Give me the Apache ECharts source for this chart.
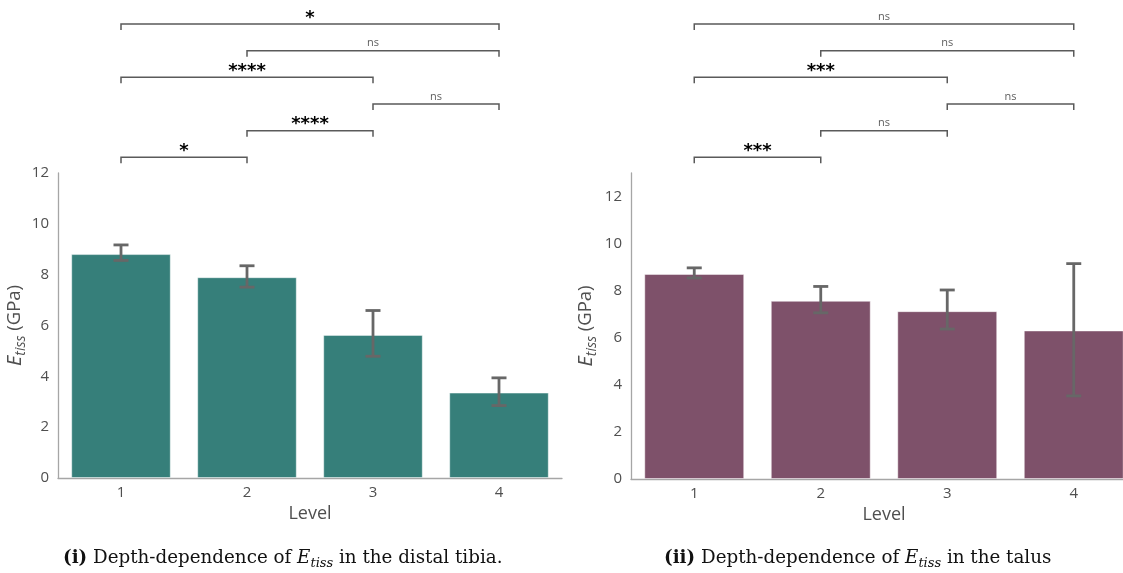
<!DOCTYPE html>
<html>
<head>
<meta charset="utf-8">
<script src="https://cdn.jsdelivr.net/npm/echarts@6/dist/echarts.min.js"></script>
<style>
  html, body { margin: 0; padding: 0; background: #ffffff; overflow: hidden; width: 1123px; height: 573px; }
  #chart { width: 1140px; height: 573px; }
</style>
</head>
<body>
<div id="chart"></div>
<script>
// Tissue modulus by depth level (mean with lower / upper error bounds, GPa)
const levels = ['1', '2', '3', '4'];
const tibiaMean = [8.81, 7.90, 5.63, 3.36];
const tibiaLow  = [8.56, 7.51, 4.79, 2.85];
const tibiaHigh = [9.17, 8.35, 6.59, 3.94];
const talusMean = [8.71, 7.57, 7.13, 6.31];
const talusLow  = [8.54, 7.06, 6.37, 3.53];
const talusHigh = [8.97, 8.18, 8.03, 9.15];

// Pairwise comparisons: [first level index, second level index, stacking row, annotation]
const tibiaPairs = [[0, 1, 1, '*'], [1, 2, 2, '****'], [2, 3, 3, 'ns'], [0, 2, 4, '****'], [1, 3, 5, 'ns'], [0, 3, 6, '*']];
const talusPairs = [[0, 1, 1, '***'], [1, 2, 2, 'ns'], [2, 3, 3, 'ns'], [0, 2, 4, '***'], [1, 3, 5, 'ns'], [0, 3, 6, 'ns']];

const TEAL = '#367f7a';
const PLUM = '#7e516a';
const ERR = '#676767';
const SPINE = '#a6a6a6';
const TEXT = '#4f4f4f';
const SANS = '"Open Sans", "Liberation Sans", sans-serif';
const SERIF = '"DejaVu Serif", "Liberation Serif", serif';

const chart = echarts.init(document.getElementById('chart'), null, { renderer: 'canvas' });

function errorSeries(xi, yi, low, high) {
  return {
    type: 'custom',
    xAxisIndex: xi, yAxisIndex: yi,
    z: 5,
    data: low.map((l, i) => [i, l, high[i]]),
    encode: { x: 0, y: [1, 2] },
    renderItem: function (params, api) {
      const top = api.coord([api.value(0), api.value(2)]);
      const bot = api.coord([api.value(0), api.value(1)]);
      const half = 7.5;
      const st = { stroke: ERR, lineWidth: 2.8, fill: null };
      return {
        type: 'group',
        children: [
          { type: 'line', shape: { x1: top[0], y1: top[1], x2: bot[0], y2: bot[1] }, style: st },
          { type: 'line', shape: { x1: top[0] - half, y1: top[1], x2: top[0] + half, y2: top[1] }, style: st },
          { type: 'line', shape: { x1: bot[0] - half, y1: bot[1], x2: bot[0] + half, y2: bot[1] }, style: st }
        ]
      };
    }
  };
}

function bracketSeries(xi, yi, pairs) {
  return {
    type: 'custom',
    xAxisIndex: xi, yAxisIndex: yi,
    silent: true,
    clip: false,
    data: pairs.map(p => [p[0], p[2], p[1]]),
    renderItem: function (params, api) {
      const p = pairs[params.dataIndex];
      const a = api.coord([p[0], p[2]]);
      const b = api.coord([p[1], p[2]]);
      const y = a[1];
      const drop = 6;
      const isNs = p[3] === 'ns';
      return {
        type: 'group',
        children: [
          {
            type: 'polyline',
            shape: { points: [[a[0], y + drop], [a[0], y], [b[0], y], [b[0], y + drop]] },
            style: { stroke: '#5a5a5a', lineWidth: 1.5, fill: null }
          },
          {
            type: 'text',
            style: isNs ? {
              text: p[3], x: (a[0] + b[0]) / 2, y: y - 2,
              align: 'center', verticalAlign: 'bottom',
              fill: '#5e5e5e', font: '11px ' + SANS
            } : {
              text: p[3], x: (a[0] + b[0]) / 2, y: y + 3,
              align: 'center', verticalAlign: 'bottom',
              fill: '#000000', font: 'bold 18px "DejaVu Sans", sans-serif'
            }
          }
        ]
      };
    }
  };
}

const yName = '{e|E}{s|tiss}{n| (GPa)}';
const yNameRich = {
  e: { fontSize: 20, fontStyle: 'italic', fontFamily: SANS, color: TEXT, lineHeight: 26 },
  s: { fontSize: 14, fontStyle: 'italic', fontFamily: SANS, color: TEXT, lineHeight: 15, verticalAlign: 'bottom' },
  n: { fontSize: 18.5, fontFamily: SANS, color: TEXT, lineHeight: 26 }
};

function mainX(gi) {
  return {
    type: 'category', gridIndex: gi, data: levels,
    name: 'Level', nameLocation: 'middle', nameGap: 25,
    nameTextStyle: { fontSize: 18, color: TEXT, fontFamily: SANS },
    axisLine: { lineStyle: { color: SPINE, width: 1.3 } },
    axisTick: { show: false },
    axisLabel: { fontSize: 15, color: TEXT, fontFamily: SANS, margin: 7 }
  };
}
function mainY(gi, max, gap) {
  return {
    type: 'value', gridIndex: gi, min: 0, max: max, interval: 2,
    name: yName, nameLocation: 'middle', nameRotate: 90, nameGap: gap,
    nameTextStyle: { rich: yNameRich },
    axisLine: { show: true, lineStyle: { color: SPINE, width: 1.3 } },
    axisTick: { show: false },
    splitLine: { show: false },
    axisLabel: { fontSize: 15, color: TEXT, fontFamily: SANS, margin: 9, showMaxLabel: max % 2 === 0 }
  };
}
function bracketX(gi) {
  return { type: 'category', gridIndex: gi, data: levels, show: false };
}
function bracketY(gi) {
  return { type: 'value', gridIndex: gi, min: 0, max: 6.75, show: false, splitLine: { show: false } };
}

const capRich = {
  b: { fontWeight: 'bold', fontSize: 18.3, fontFamily: SERIF, lineHeight: 24, fill: '#111111' },
  e: { fontStyle: 'italic', fontSize: 18.3, fontFamily: SERIF, lineHeight: 24, fill: '#111111' },
  s: { fontStyle: 'italic', fontSize: 13, fontFamily: SERIF, lineHeight: 12, verticalAlign: 'bottom', fill: '#111111' }
};

const option = {
  backgroundColor: '#ffffff',
  animation: false,
  grid: [
    { left: 58, top: 173, width: 504, height: 305 },
    { left: 58, top: 4, width: 504, height: 180 },
    { left: 631, top: 173, width: 506, height: 306 },
    { left: 631, top: 4, width: 506, height: 180 }
  ],
  xAxis: [mainX(0), bracketX(1), mainX(2), bracketX(3)],
  yAxis: [mainY(0, 12, 30), bracketY(1), mainY(2, 13, 32), bracketY(3)],
  series: [
    {
      type: 'bar', xAxisIndex: 0, yAxisIndex: 0, data: tibiaMean, barWidth: '79%',
      itemStyle: { color: TEAL, borderColor: 'rgba(255,255,255,0.45)', borderWidth: 1 }
    },
    errorSeries(0, 0, tibiaLow, tibiaHigh),
    bracketSeries(1, 1, tibiaPairs),
    {
      type: 'bar', xAxisIndex: 2, yAxisIndex: 2, data: talusMean, barWidth: '79%',
      itemStyle: { color: PLUM, borderColor: 'rgba(255,255,255,0.45)', borderWidth: 1 }
    },
    errorSeries(2, 2, talusLow, talusHigh),
    bracketSeries(3, 3, talusPairs)
  ],
  graphic: [
    {
      type: 'text', left: 63, top: 549,
      style: {
        text: '{b|(i)} Depth-dependence of {e|E}{s|tiss} in the distal tibia.',
        font: '18.3px ' + SERIF, fill: '#111111',
        rich: capRich
      }
    },
    {
      type: 'text', left: 664, top: 549,
      style: {
        text: '{b|(ii)} Depth-dependence of {e|E}{s|tiss} in the talus',
        font: '18.3px ' + SERIF, fill: '#111111',
        rich: capRich
      }
    }
  ]
};

chart.setOption(option);
</script>
</body>
</html>
